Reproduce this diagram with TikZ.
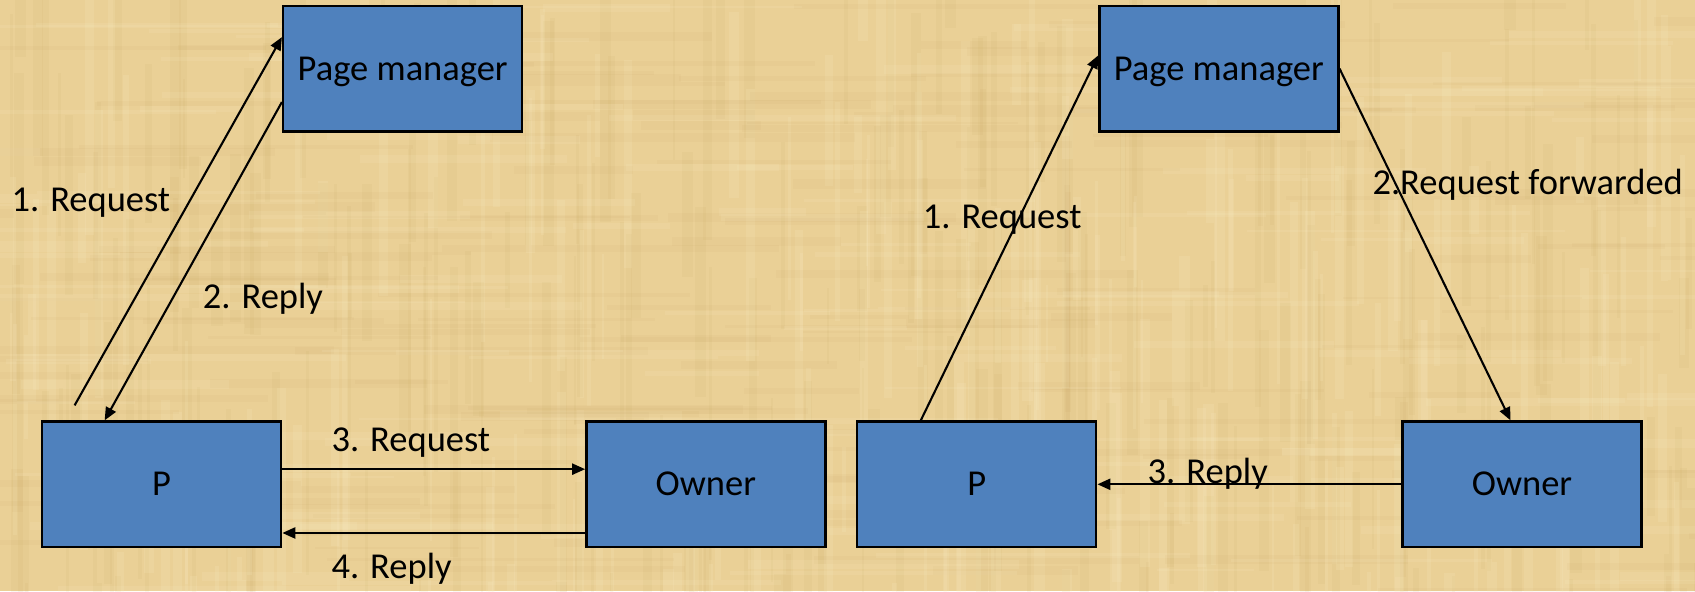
\documentclass[tikz,border=0pt]{standalone}
\usepackage{fontspec}
\setmainfont{Carlito}
\usetikzlibrary{arrows.meta}

\definecolor{papyrus}{RGB}{234,208,150}
\definecolor{papdark}{RGB}{190,152,84}
\definecolor{paplight}{RGB}{252,240,200}
\definecolor{boxblue}{RGB}{79,129,189}

\tikzset{
  procbox/.style={draw=black, line width=0.65pt, fill=boxblue,
    minimum width=2.21cm, minimum height=1.16cm, inner sep=0pt,
    text height=6.1pt, text depth=0pt, font=\fontsize{9.6}{11.5}\selectfont},
  msg/.style={draw=black, line width=0.55pt,
    -{Triangle[length=3.4pt,width=2.9pt]}},
  lbl/.style={anchor=base west, inner sep=0pt,
    font=\fontsize{9.6}{11.5}\selectfont},
}

\begin{document}
\begin{tikzpicture}[x=0.01cm, y=-0.01cm]
  % papyrus background
  \useasboundingbox (0,0) rectangle (1568,547);
  \fill[papyrus] (0,0) rectangle (1568,547);
  \begin{scope}
    \clip (0,0) rectangle (1568,547);
    \pgfmathsetseed{42}
    % vertical fibres
    \foreach \k in {1,...,240}{
      \pgfmathsetmacro{\xa}{rnd*1568}
      \pgfmathsetmacro{\ya}{rnd*600-60}
      \pgfmathsetmacro{\wd}{2+rnd*9}
      \pgfmathsetmacro{\ht}{60+rnd*220}
      \fill[papdark, opacity=0.07] (\xa,\ya) rectangle ++(\wd,\ht);
    }
    \foreach \k in {1,...,200}{
      \pgfmathsetmacro{\xa}{rnd*1568}
      \pgfmathsetmacro{\ya}{rnd*600-60}
      \pgfmathsetmacro{\wd}{2+rnd*8}
      \pgfmathsetmacro{\ht}{60+rnd*220}
      \fill[paplight, opacity=0.14] (\xa,\ya) rectangle ++(\wd,\ht);
    }
    % horizontal fibres
    \foreach \k in {1,...,160}{
      \pgfmathsetmacro{\xa}{rnd*1700-100}
      \pgfmathsetmacro{\ya}{rnd*547}
      \pgfmathsetmacro{\wd}{80+rnd*260}
      \pgfmathsetmacro{\ht}{2+rnd*7}
      \fill[papdark, opacity=0.06] (\xa,\ya) rectangle ++(\wd,\ht);
    }
    \foreach \k in {1,...,140}{
      \pgfmathsetmacro{\xa}{rnd*1700-100}
      \pgfmathsetmacro{\ya}{rnd*547}
      \pgfmathsetmacro{\wd}{80+rnd*260}
      \pgfmathsetmacro{\ht}{2+rnd*6}
      \fill[paplight, opacity=0.12] (\xa,\ya) rectangle ++(\wd,\ht);
    }
  \end{scope}

  % left scheme: requester asks the manager, then the owner
  \node[procbox] (pmL) at (372.5,63.5) {Page manager};
  \node[procbox] (pL)  at (149.5,448)  {P};
  \node[procbox] (oL)  at (653,448)    {Owner};

  \coordinate (reqL) at (69,375);
  \draw[msg] (reqL) -- ([yshift=-0.30cm]pmL.north west);
  \draw[msg] ([yshift=-0.90cm]pmL.north west) -- ([xshift=0.59cm]pL.north west);
  \draw[msg] ([yshift=0.14cm]pL.east) -- ([yshift=0.14cm]oL.west);
  \draw[msg] ([yshift=-0.45cm]oL.west) -- ([yshift=-0.45cm]pL.east);

  \node[lbl] (l1L) at (10,196)  {1. Request};
  \node[lbl] (l2L) at (187,285) {2. Reply};
  \node[lbl] (l3L) at (306,418) {3. Request};
  \node[lbl] (l4L) at (306,535) {4. Reply};

  % right scheme: the manager forwards the request to the owner
  \node[procbox] (pmR) at (1127.5,63.5) {Page manager};
  \node[procbox] (pR)  at (903.5,448)   {P};
  \node[procbox] (oR)  at (1408,448)    {Owner};

  \draw[msg] ([xshift=0.60cm]pR.north west) -- ([yshift=-0.47cm]pmR.north west);
  \draw[msg] (pmR.east) -- ([xshift=1.01cm]oR.north west);
  \draw[msg] (oR.west) -- (pR.east);

  \node[lbl] (l1R) at (853,211)  {1. Request};
  \node[lbl] (l2R) at (1269,180) {2.Request forwarded};
  \node[lbl] (l3R) at (1061,447) {3. Reply};
\end{tikzpicture}
\end{document}
